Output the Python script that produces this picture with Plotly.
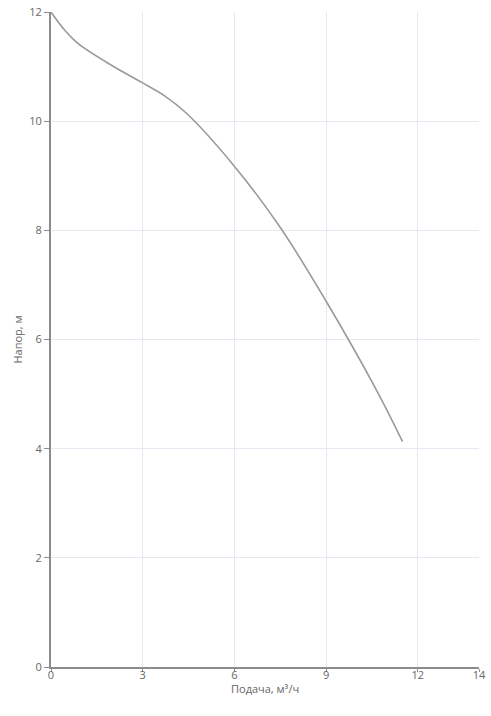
import plotly.graph_objects as go

flow = [0, 0.46, 0.89, 1.99, 2.97, 3.73, 4.44, 5.99, 7.49, 8.99, 10.65, 11.5]
head = [12, 11.66, 11.42, 11.02, 10.71, 10.46, 10.14, 9.18, 8.06, 6.71, 5.07, 4.13]

x_ticks = [0, 3, 6, 9, 12, 14]
y_ticks = [0, 2, 4, 6, 8, 10, 12]
x_title = "Подача, м³/ч"
y_title = "Напор, м"

fig = go.Figure()
fig.add_trace(go.Scatter(x=flow, y=head, mode="lines",
                         line=dict(color="#9a9a9a", width=1.6, shape="spline", smoothing=1.0),
                         hoverinfo="skip", showlegend=False))

font = dict(family="Open Sans, sans-serif", size=11, color="#666")
fig.update_layout(
    width=491, height=716,
    margin=dict(l=51, r=12, t=12, b=49),
    paper_bgcolor="white", plot_bgcolor="white",
    font=font,
    xaxis=dict(range=[0, 14], tickvals=x_ticks, ticktext=[str(v) for v in x_ticks],
               showgrid=True, gridcolor="#e6e9f2", gridwidth=1,
               showline=True, linecolor="#8c8c8c", linewidth=2,
               ticks="outside", ticklen=3, tickcolor="#8c8c8c",
               ticklabelstandoff=-6, automargin=False, ticklabeloverflow="allow",
               zeroline=False),
    yaxis=dict(range=[0, 12], tickvals=y_ticks,
               showgrid=True, gridcolor="#e6e9f2", gridwidth=1,
               showline=True, linecolor="#8c8c8c", linewidth=2,
               ticks="outside", ticklen=5, tickcolor="#8c8c8c", automargin=False,
               ticklabeloverflow="allow",
               zeroline=False, title=dict(text=y_title, standoff=4, font=font)),
    annotations=[dict(text=x_title, xref="paper", yref="paper", x=0.5, y=0,
                      xanchor="center", yanchor="middle", yshift=-21,
                      showarrow=False, font=font)],
)
fig.write_html("out.html", config={"displayModeBar": False},
               post_script="document.body.style.margin='0';document.body.style.overflow='hidden';")
